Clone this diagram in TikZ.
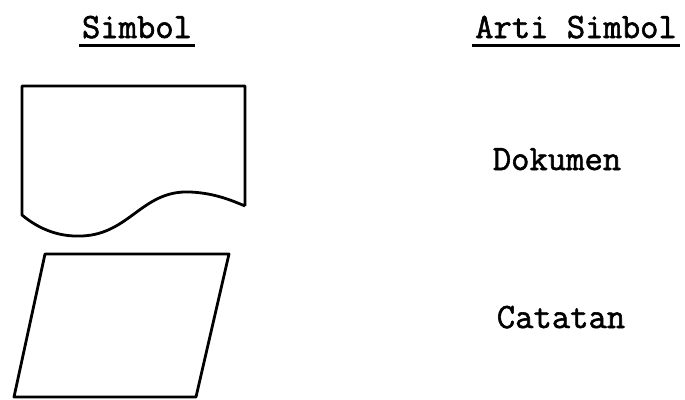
\documentclass[tikz,border=0pt]{standalone}
\usepackage{fontspec}
\newfontfamily\twfont{Latin Modern Mono}[FakeBold=1.6]
\begin{document}
\begin{tikzpicture}[x=1pt,y=-1pt,
  lbl/.style={font=\twfont\fontsize{35.6}{40}\selectfont, inner sep=0pt, anchor=base},
  ul/.style={line width=3pt},
  shp/.style={line width=2.8pt, line join=round}]
\useasboundingbox (0,0) rectangle (685,399);
\node[lbl] (h1) at (137,38) {Simbol};
\node[lbl] (h2) at (576,38) {Arti Simbol};
\draw[ul] ([xshift=-3pt,yshift=-7pt]h1.base west) -- ([xshift=3pt,yshift=-7pt]h1.base east);
\draw[ul] ([xshift=-3pt,yshift=-7pt]h2.base west) -- ([xshift=3pt,yshift=-7pt]h2.base east);
% Document symbol
\draw[shp] (245,206) -- (245,86) -- (22,86) -- (22,215)
  .. controls (40,230) and (60,237) .. (82,236)
  .. controls (130,234) and (142,190) .. (190,192)
  .. controls (215,193) and (233,201) .. (245,206);
% Manual input / record symbol
\draw[shp] (45,254) -- (229,254) -- (196,397) -- (14,397) -- cycle;
\node[lbl] (dok) at (557,170) {Dokumen};
\node[lbl] (cat) at (561,328) {Catatan};
\end{tikzpicture}
\end{document}
